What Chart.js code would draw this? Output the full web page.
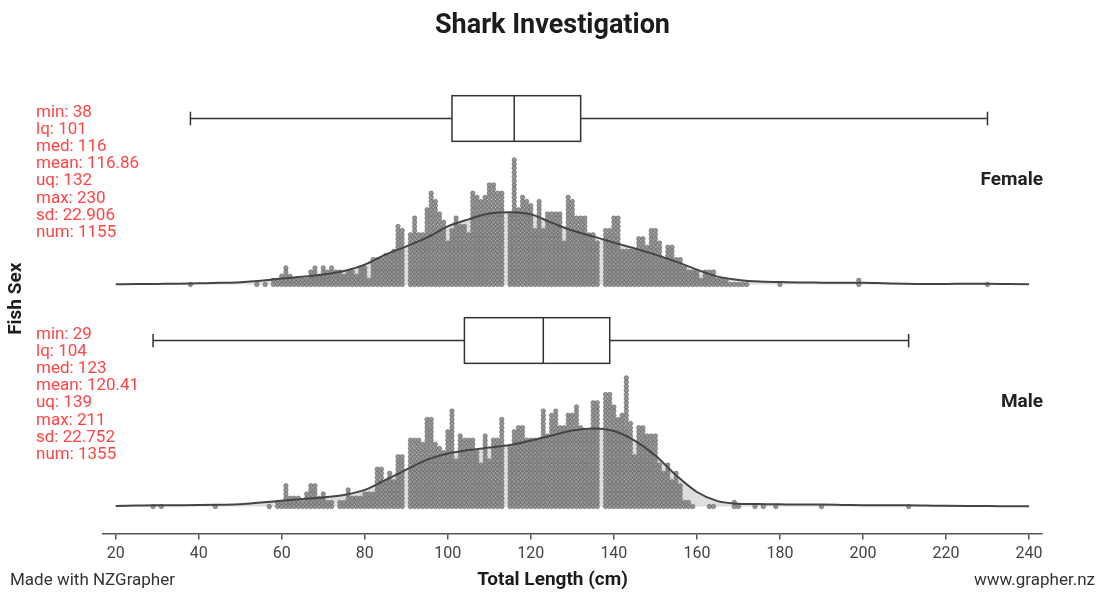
<!DOCTYPE html>
<html>
<head>
<meta charset="utf-8">
<title>Shark Investigation</title>
<script src="https://cdn.jsdelivr.net/npm/chart.js@4.4.1/dist/chart.umd.min.js"></script>
<style>
  html, body { margin: 0; padding: 0; background: #fff; }
</style>
</head>
<body>
<canvas id="sharkChart" width="1105" height="601"></canvas>
<script>
// one count per whole cm, starting at 20 cm
const firstLength = 20;

const femaleCounts = [
  0,0,0,0,0,0,0,0,0,0,        // 20-29
  0,0,0,0,0,0,0,0,1,0,        // 30-39
  0,0,0,0,0,0,0,0,0,0,        // 40-49
  0,0,0,0,1,0,1,0,2,2,        // 50-59
  3,5,3,2,2,2,2,4,5,3,        // 60-69
  5,4,5,4,4,3,4,4,3,5,        // 70-79
  5,2,7,7,7,8,8,9,15,14,      // 80-89
  0,13,17,13,13,19,23,21,18,16,   // 90-99
  11,14,17,15,15,13,23,22,21,22,  // 100-109
  25,25,23,23,0,18,31,19,22,21,   // 110-119
  20,14,21,14,18,18,18,18,11,22,  // 120-129
  21,17,17,17,13,13,11,0,14,14,   // 130-139
  17,17,9,9,9,9,12,12,10,14,      // 140-149
  14,11,7,10,10,7,7,5,4,4,        // 150-159
  4,2,4,4,4,2,2,2,1,1,        // 160-169
  1,1,1,0,0,0,0,0,0,0,        // 170-179
  1,0,0,0,0,0,0,0,0,0,        // 180-189
  0,0,0,0,0,0,0,0,0,2,        // 190-199
  0,0,0,0,0,0,0,0,0,0,        // 200-209
  0,0,0,0,0,0,0,0,0,0,        // 210-219
  0,0,0,0,0,0,0,0,0,0,        // 220-229
  1,0,0,0,0,0,0,0,0,0,        // 230-239
  0                           // 240
];

const maleCounts = [
  0,0,0,0,0,0,0,0,0,1,        // 20-29
  0,1,0,0,0,0,0,0,0,0,        // 30-39
  0,0,0,0,1,0,0,0,0,0,        // 40-49
  0,0,0,0,0,0,0,1,0,2,        // 50-59
  2,6,3,3,3,2,4,6,6,3,        // 60-69
  4,2,2,0,2,2,5,3,3,3,        // 70-79
  4,4,4,10,10,7,9,7,13,13,    // 80-89
  0,17,17,17,16,22,22,16,15,14,   // 90-99
  19,24,12,18,17,17,17,14,11,18,  // 100-109
  12,17,17,22,0,15,19,20,20,17,   // 110-119
  17,17,17,24,18,23,24,20,20,23,  // 120-129
  23,25,20,19,19,26,26,0,28,28,   // 130-139
  25,22,23,32,21,13,20,20,18,18,  // 140-149
  18,11,9,11,7,9,6,2,2,1,     // 150-159
  0,0,0,1,1,0,0,0,0,2,        // 160-169
  1,0,0,0,1,0,1,0,0,1,        // 170-179
  0,0,0,0,0,0,0,0,0,0,        // 180-189
  1,0,0,0,0,0,0,0,0,0,        // 190-199
  0,0,0,0,0,0,0,0,0,0,        // 200-209
  0,1,0,0,0,0,0,0,0,0,        // 210-219
  0,0,0,0,0,0,0,0,0,0,        // 220-229
  0,0,0,0,0,0,0,0,0,0,        // 230-239
  0                           // 240
];

// smoothed density, in dots per cm, every 5 cm
const densityLengths = [20,25,30,35,40,45,50,55,60,65,70,75,80,85,90,95,100,105,110,115,120,125,130,135,140,145,150,155,160,165,170,175,180,185,190,195,200,205,210,215,220,225,230,235,240];
const femaleDensity = [0.07,0.1,0.15,0.2,0.3,0.4,0.55,0.9,1.45,1.85,2.4,3.25,4.8,7.2,9.2,11.3,14.0,15.7,17.1,17.4,16.9,14.9,13.0,11.6,10.1,8.7,7.2,5.5,3.6,1.9,1.1,0.7,0.6,0.5,0.45,0.4,0.4,0.3,0.2,0.15,0.15,0.17,0.17,0.12,0.07];
const maleDensity = [0.15,0.22,0.29,0.31,0.34,0.43,0.55,0.96,1.4,1.8,2.2,2.8,4.0,6.4,8.9,11.3,12.8,13.6,14.2,14.8,15.9,17.1,18.3,18.8,18.2,15.9,12.3,7.5,3.5,1.3,0.67,0.58,0.53,0.48,0.46,0.39,0.31,0.29,0.29,0.24,0.17,0.12,0.1,0.07,0.05];

const xTicks = [20,40,60,80,100,120,140,160,180,200,220,240];

const statNames = ['min','lq','med','mean','uq','max','sd','num'];
const femaleStats = [38,101,116,116.86,132,230,22.906,1155];
const maleStats = [29,104,123,120.41,139,211,22.752,1355];

const groupNames = ['Female','Male'];

// layout of the two panels, in dot units on the hidden y scale
const groupBase = [60, 6.5];
const boxOffset = 40;
const boxHalf = 5.5;
const capHalf = 1.6;

function dotPoints(counts, base){
    const pts = [];
    counts.forEach((n, i) => {
        for(let k=0; k<n; k++){
            pts.push({x: firstLength + i, y: base + k});
        }
    });
    return pts;
}

function densityPoints(dens, base){
    return densityLengths.map((v, i) => ({x: v, y: base + dens[i]}));
}

const dotStyle = {
    pointRadius: 2.25,
    pointBackgroundColor: 'rgba(130,130,130,0.85)',
    pointBorderColor: 'rgba(90,90,90,0.85)',
    pointBorderWidth: 0.6,
    pointHoverRadius: 2.25,
    order: 2
};

const lineStyle = {
    type: 'line',
    borderColor: '#444',
    borderWidth: 2,
    backgroundColor: 'rgba(200,200,200,0.6)',
    pointRadius: 0,
    cubicInterpolationMode: 'monotone',
    order: 1
};

/**
 * Box plots, stats and the extra text NZGrapher puts round the plot
 */
const sharkExtras = {
    id: 'sharkExtras',
    afterDraw(chart){
        const ctx = chart.ctx;
        const xs = chart.scales.x;
        const ys = chart.scales.y;
        const area = chart.chartArea;
        const allStats = [femaleStats, maleStats];

        ctx.save();
        allStats.forEach((st, g) => {
            const base = groupBase[g];
            const yc = ys.getPixelForValue(base + boxOffset);
            const yt = ys.getPixelForValue(base + boxOffset + boxHalf);
            const yb = ys.getPixelForValue(base + boxOffset - boxHalf);
            const ct = ys.getPixelForValue(base + boxOffset + capHalf);
            const cb = ys.getPixelForValue(base + boxOffset - capHalf);
            const pMin = xs.getPixelForValue(st[0]);
            const pLq  = xs.getPixelForValue(st[1]);
            const pMed = xs.getPixelForValue(st[2]);
            const pUq  = xs.getPixelForValue(st[4]);
            const pMax = xs.getPixelForValue(st[5]);

            ctx.strokeStyle = '#333';
            ctx.lineWidth = 1.5;
            ctx.beginPath();
            ctx.moveTo(pMin, yc); ctx.lineTo(pLq, yc);
            ctx.moveTo(pUq, yc);  ctx.lineTo(pMax, yc);
            ctx.moveTo(pMin, ct); ctx.lineTo(pMin, cb);
            ctx.moveTo(pMax, ct); ctx.lineTo(pMax, cb);
            ctx.stroke();
            ctx.fillStyle = '#fff';
            ctx.fillRect(pLq, yt, pUq - pLq, yb - yt);
            ctx.strokeRect(pLq, yt, pUq - pLq, yb - yt);
            ctx.beginPath();
            ctx.moveTo(pMed, yt); ctx.lineTo(pMed, yb);
            ctx.stroke();

            // red summary text
            ctx.fillStyle = '#ff4545';
            ctx.font = '17px Roboto';
            ctx.textAlign = 'left';
            ctx.textBaseline = 'middle';
            statNames.forEach((name, i) => {
                ctx.fillText(name + ': ' + st[i], 36, yc - 6 + i*17.15);
            });

            // group name
            ctx.fillStyle = '#222';
            ctx.font = 'bold 19px Roboto';
            ctx.textAlign = 'right';
            ctx.fillText(groupNames[g], area.right + 1, ys.getPixelForValue(base) - 104);
        });

        // titles
        ctx.fillStyle = '#1c1c1c';
        ctx.textAlign = 'center';
        ctx.font = 'bold 27px Roboto';
        ctx.fillText('Shark Investigation', chart.width/2, 26);
        ctx.font = 'bold 19px Roboto';
        ctx.fillText('Total Length (cm)', chart.width/2, 580);

        ctx.save();
        ctx.translate(16, (area.top + area.bottom)/2 + 2);
        ctx.rotate(-Math.PI/2);
        ctx.fillText('Fish Sex', 0, 0);
        ctx.restore();

        // footer
        ctx.fillStyle = '#333';
        ctx.font = '17px Roboto';
        ctx.textAlign = 'left';
        ctx.fillText('Made with NZGrapher', 10, 581);
        ctx.textAlign = 'right';
        ctx.fillText('www.grapher.nz', 1095, 581);
        ctx.restore();
    }
};

const ctx = document.getElementById('sharkChart').getContext('2d');
const chart = new Chart(ctx, {
    type: 'scatter',
    data: {
        datasets: [
            Object.assign({label: 'Female', data: dotPoints(femaleCounts, groupBase[0])}, dotStyle),
            Object.assign({label: 'Male', data: dotPoints(maleCounts, groupBase[1])}, dotStyle),
            Object.assign({label: 'Female density', data: densityPoints(femaleDensity, groupBase[0]), fill: {value: groupBase[0]}}, lineStyle),
            Object.assign({label: 'Male density', data: densityPoints(maleDensity, groupBase[1]), fill: {value: groupBase[1]}}, lineStyle)
        ]
    },
    options: {
        responsive: false,
        animation: false,
        layout: { padding: { left: 103, right: 63, top: 60, bottom: 0 } },
        plugins: {
            legend: { display: false },
            title: { display: false },
            tooltip: { enabled: false },
            filler: { drawTime: 'beforeDatasetsDraw' }
        },
        scales: {
            x: {
                type: 'linear',
                min: 16.94,
                max: 243.13,
                afterBuildTicks: scale => { scale.ticks = xTicks.map(v => ({value: v})); },
                afterFit: scale => { scale.height = 67.5; },
                grid: { drawOnChartArea: false, drawTicks: true, tickLength: 6, color: '#555', lineWidth: 1.5 },
                border: { display: true, color: '#555', width: 1.5 },
                ticks: { font: { family: 'Roboto', size: 16 }, color: '#444', padding: 5, maxRotation: 0 }
            },
            y: {
                display: false,
                min: 0,
                max: 114.1
            }
        }
    },
    plugins: [sharkExtras]
});
</script>
</body>
</html>
